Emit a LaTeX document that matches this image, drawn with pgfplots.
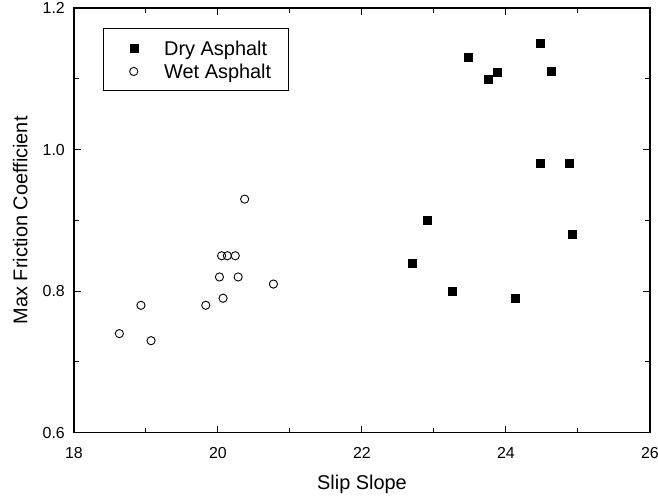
\documentclass[border=0pt]{standalone}
\usepackage{fontspec}
\setmainfont{Liberation Sans}
\usepackage{pgfplots}
\pgfplotsset{compat=1.18}
\begin{document}
\begin{tikzpicture}
\begin{axis}[
  scale only axis,
  width=576bp, height=424.7bp,
  xmin=18, xmax=26, ymin=0.6, ymax=1.2,
  xtick={18,20,22,24,26},
  minor xtick={19,21,23,25},
  ytick={0.6,0.8,1.0,1.2},
  minor ytick={0.7,0.9,1.1},
  tick align=inside,
  major tick length=7bp,
  minor tick length=5bp,
  axis line style={line width=1.3bp},
  every tick/.style={black, line width=1bp},
  /pgf/number format/assume math mode=true,
  yticklabel style={/pgf/number format/fixed, /pgf/number format/fixed zerofill, /pgf/number format/precision=1},
  ticklabel style={font=\fontsize{16}{19}\selectfont},
  yticklabel style={inner sep=0pt, anchor=east, xshift=-9bp},
  xticklabel style={inner sep=0pt, anchor=north, yshift=-14bp},
  xlabel={Slip Slope},
  ylabel={Max Friction Coefficient},
  label style={font=\fontsize{20}{24}\selectfont},
  xlabel style={at={(axis description cs:0.5,-0.1326)}, anchor=base, inner sep=0pt},
  ylabel style={at={(axis description cs:-0.0811,0.5)}, anchor=base, inner sep=0pt},
  legend cell align=left,
  legend style={at={(axis description cs:0.0503,0.953)}, anchor=north west,
    draw=black, line width=0.8bp, inner xsep=17bp, inner ysep=8bp,
    row sep=0pt, column sep=0pt,
    font=\fontsize{20}{24}\selectfont,
    nodes={inner xsep=0pt, inner ysep=0pt, text height=19.2bp, text depth=3.8bp}},
  legend image code/.code={\path (-13bp,0) (30bp,0); \draw[#1] plot coordinates {(0bp,-0.6bp)};},
]
\addplot[only marks, mark=square*, mark size=4bp, mark options={fill=black, draw=black, line width=0.5bp}]
coordinates {
(24.48,1.15) (23.47,1.13) (23.76,1.10) (23.88,1.109) (24.63,1.111)
(24.48,0.98) (24.88,0.98) (22.91,0.90) (24.92,0.88)
(22.70,0.84) (23.25,0.80) (24.13,0.79)
};
\addlegendentry{Dry Asphalt}
\addplot[only marks, mark=o, mark size=4.1bp, mark options={draw=black, fill=white, line width=0.9bp}]
coordinates {
(18.63,0.74) (18.93,0.78) (19.07,0.73) (19.83,0.78) (20.02,0.82)
(20.07,0.79) (20.05,0.85) (20.13,0.85) (20.24,0.85) (20.28,0.82)
(20.77,0.81) (20.37,0.93)
};
\addlegendentry{Wet Asphalt}
\end{axis}
\pgfresetboundingbox
\path (-74bp,-69.3bp) rectangle (584bp,432.7bp);
\end{tikzpicture}
\end{document}
